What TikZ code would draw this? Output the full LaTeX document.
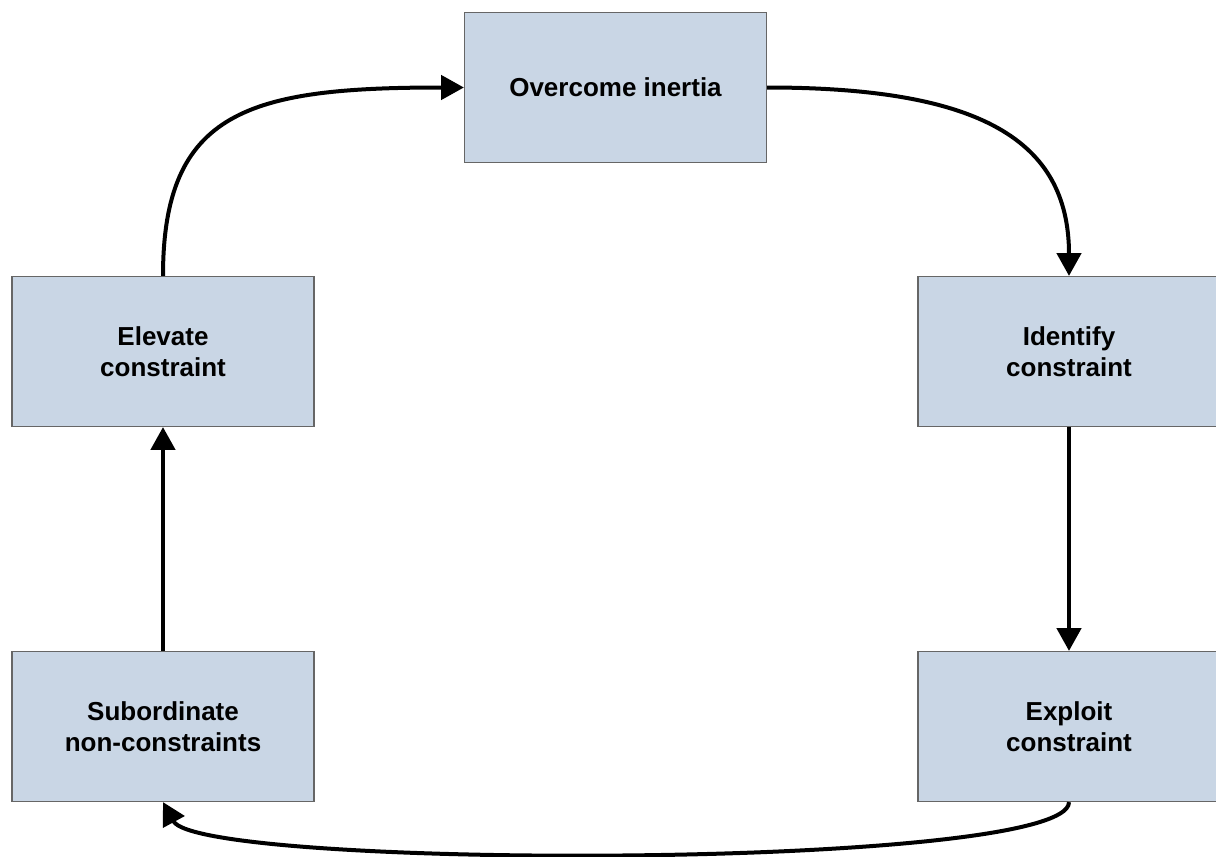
\documentclass[tikz,border=0pt]{standalone}
\usepackage{fontspec}
\setmainfont{Liberation Sans}
\usetikzlibrary{arrows.meta}
\definecolor{boxfill}{HTML}{C9D6E5}
\definecolor{boxline}{HTML}{666666}
\tikzset{
  stagebox/.style={draw=boxline, line width=0.9pt, fill=boxfill,
    minimum width=226.5pt, minimum height=112.5pt, inner sep=0pt,
    align=center, font=\fontsize{19.5}{23}\selectfont\bfseries},
  flow/.style={line width=3pt, -{Triangle[length=17pt,width=18pt]}}
}
\begin{document}
\begin{tikzpicture}[x=0.75pt,y=-0.75pt]
  \useasboundingbox (0,0) rectangle (1216,856);
  \fill[white] (0,0) rectangle (1216,856);

  % the five stages of the cycle
  \node[stagebox] (over)  at (615.5,87.5)  {Overcome inertia};
  \node[stagebox] (elev)  at (163,351.5)   {Elevate\\constraint};
  \node[stagebox] (ident) at (1069,351.5)  {Identify\\constraint};
  \node[stagebox] (subo)  at (163,726.5)   {Subordinate\\non-constraints};
  \node[stagebox] (expl)  at (1069,726.5)  {Exploit\\constraint};

  % connectors
  \draw[flow] (elev.north) .. controls (163,110) and (250,87.5) .. (over.west);
  \draw[flow] (over.east) .. controls (980,87.5) and (1069,140) .. (ident.north);
  \draw[flow] (ident.south) -- (expl.north);
  \draw[flow] (expl.south) .. controls (1069,870) and (200,870) .. (subo.south);
  \draw[flow] (subo.north) -- (elev.south);
\end{tikzpicture}
\end{document}
